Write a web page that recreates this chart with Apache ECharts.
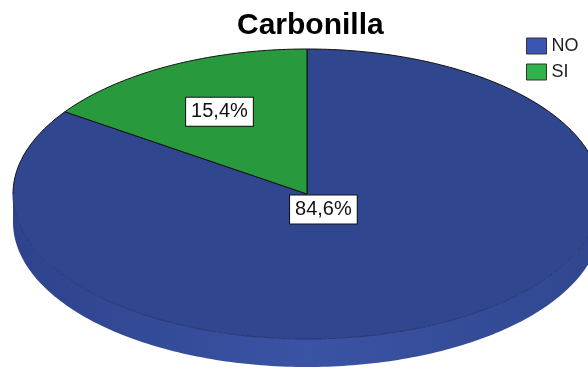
<!DOCTYPE html>
<html>
<head>
<meta charset="utf-8">
<script src="https://cdn.jsdelivr.net/npm/echarts@6/dist/echarts.min.js"></script>
<style>
  html, body { margin: 0; padding: 0; background: #fff; }
  #chart { width: 588px; height: 370px; }
</style>
</head>
<body>
<div id="chart"></div>
<script>
const categories = ['NO', 'SI']
const values = [84.6, 15.4]
const labels = ['84,6%', '15,4%']
const colors = ['#30468f', '#28993c']
const legendColors = ['#3a55b3', '#31b34b']

const chart = echarts.init(document.getElementById('chart'))
const total = values.reduce((a, b) => a + b, 0)

// start angle of each slice, clockwise from 12 o'clock
const starts = []
let acc = 0
values.forEach(v => { starts.push(acc / total * 360); acc += v })

// ellipse layout (3d pie seen from above)
const CX = 307, CY = 194, RX = 294, RY = 145, DEPTH = 28
const labelRadius = [0.12, 0.64]

function pt(a, dy) {
  const r = a * Math.PI / 180
  return [CX + RX * Math.sin(r), CY - RY * Math.cos(r) + (dy || 0)]
}
function arc(a0, a1, dy) {
  const pts = []
  const n = Math.max(2, Math.ceil(Math.abs(a1 - a0)))
  for (let i = 0; i <= n; i++) pts.push(pt(a0 + (a1 - a0) * i / n, dy))
  return pts
}
const edge = { stroke: '#111', lineWidth: 1, fill: null }

function sliceSeries(i) {
  const a0 = starts[i]
  const a1 = starts[i] + values[i] / total * 360
  return {
    type: 'custom',
    name: categories[i],
    coordinateSystem: 'none',
    silent: true,
    itemStyle: { color: legendColors[i] },
    data: [values[i]],
    renderItem: () => {
      const children = []
      // visible side (front half of the ellipse)
      const s0 = Math.max(a0, 90), s1 = Math.min(a1, 270)
      let front = null
      if (s1 > s0) {
        front = arc(s0, s1, 0)
        children.push({
          type: 'polygon',
          shape: { points: front.concat(arc(s1, s0, DEPTH)) },
          style: {
            fill: new echarts.graphic.LinearGradient(0, 0, 1, 0, [
              { offset: 0, color: '#2e438c' },
              { offset: 0.5, color: '#3a53a4' },
              { offset: 1, color: '#30468f' }
            ])
          }
        })
      }
      // top face
      children.push({
        type: 'polygon',
        shape: { points: [[CX, CY]].concat(arc(a0, a1, 0)) },
        style: { fill: colors[i] }
      })
      if (front) {
        children.push({ type: 'polyline', shape: { points: front }, style: { stroke: '#243670', lineWidth: 1, fill: null } })
      }
      // back outline
      const backs = [[a0, Math.min(a1, 90)], [Math.max(a0, 270), a1]]
      backs.forEach(b => {
        if (b[1] > b[0]) children.push({ type: 'polyline', shape: { points: arc(b[0], b[1], 0) }, style: edge })
      })
      children.push({ type: 'polyline', shape: { points: [pt(a0), [CX, CY], pt(a1)] }, style: edge })
      // value label
      const mid = (a0 + a1) / 2 * Math.PI / 180
      const f = labelRadius[i]
      children.push({
        type: 'text',
        z2: 10,
        style: {
          x: CX + RX * f * Math.sin(mid),
          y: CY - RY * f * Math.cos(mid),
          text: labels[i],
          align: 'center',
          verticalAlign: 'middle',
          fontSize: 20,
          fontFamily: 'Liberation Sans',
          fill: '#111',
          backgroundColor: '#fff',
          borderColor: '#111',
          borderWidth: 1,
          padding: [4, 5]
        }
      })
      return { type: 'group', children }
    }
  }
}

const option = {
  animation: false,
  title: {
    text: 'Carbonilla',
    left: 232,
    top: 6,
    textStyle: { fontSize: 30, fontWeight: 'bold', fontFamily: 'Liberation Sans', color: '#000' }
  },
  legend: {
    data: categories,
    orient: 'vertical',
    left: 526,
    top: 37,
    padding: 0,
    itemWidth: 20,
    itemHeight: 16,
    itemGap: 8,
    icon: 'rect',
    itemStyle: { borderColor: '#333', borderWidth: 1 },
    textStyle: { fontSize: 18, fontFamily: 'Liberation Sans', color: '#222' }
  },
  series: categories.map((c, i) => sliceSeries(i))
}
chart.setOption(option)
</script>
</body>
</html>
